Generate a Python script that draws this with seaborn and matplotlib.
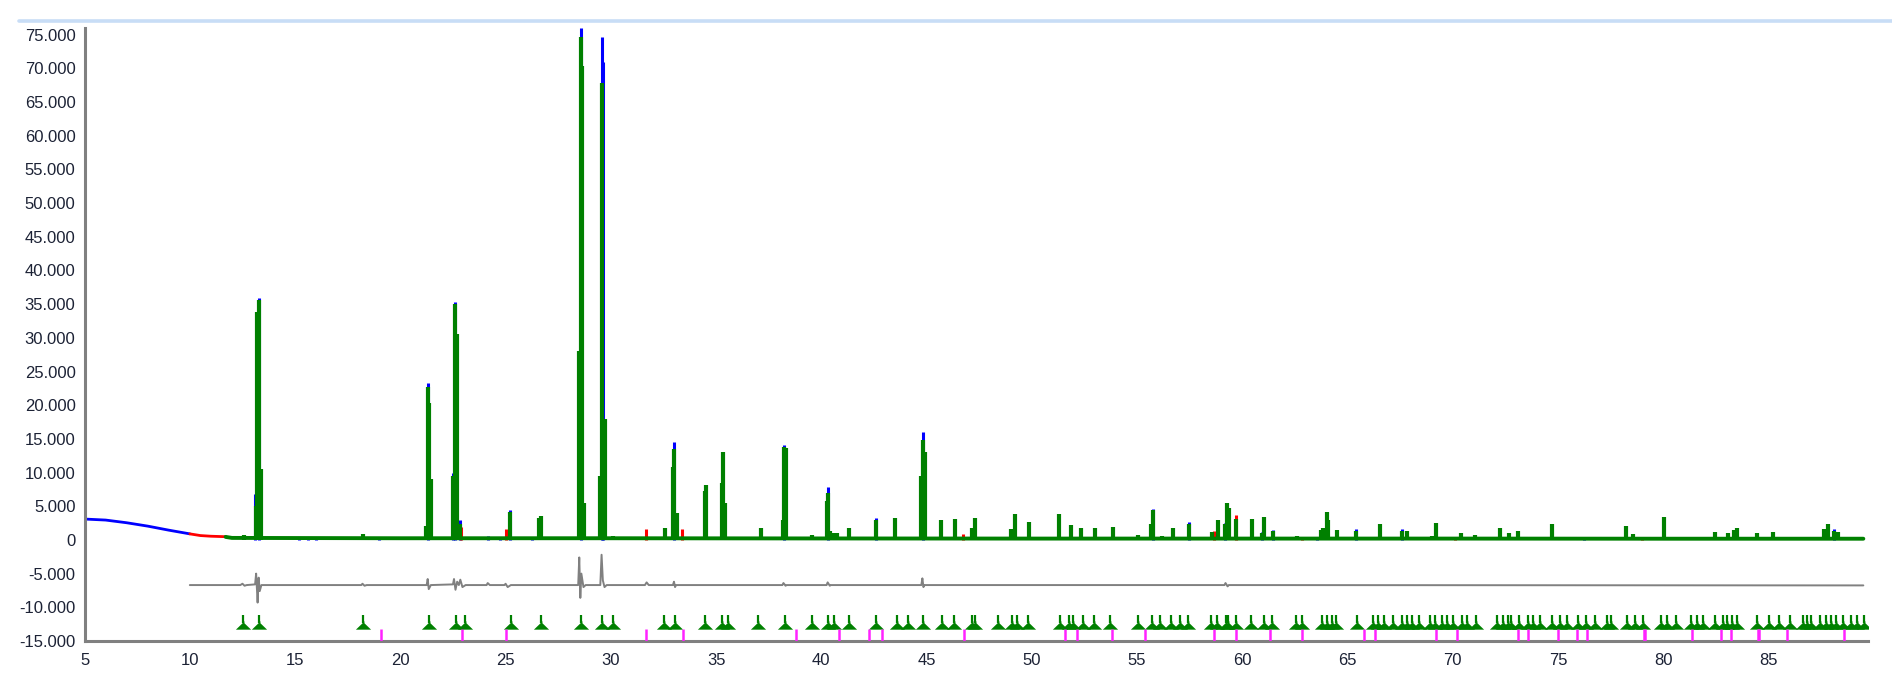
import matplotlib

matplotlib.use("Agg")

import matplotlib.pyplot as plt
import numpy as np
import pandas as pd
import seaborn as sns
from matplotlib.lines import Line2D
from matplotlib.ticker import FuncFormatter, MultipleLocator

# observed background before the refined range (blue / red part)
obs_bg_x = [5, 6, 7, 8, 9, 10]
obs_bg_y = [3100, 2950, 2550, 2050, 1450, 900]
red_bg_x = [10, 10.5, 11, 11.7]
red_bg_y = [900, 650, 550, 480]

# calculated background
calc_bg_x = [11.7, 12.0, 20, 30, 40, 50, 60, 70, 80, 89.5]
calc_bg_y = [450, 300, 250, 250, 220, 200, 200, 200, 180, 180]

# calculated peaks (green)
calc_pos = [12.55, 13.15, 13.2, 13.28, 13.36, 18.22, 21.2, 21.3, 21.36, 21.45,
            22.52, 22.6, 22.68, 22.85, 25.22, 26.6, 26.69, 28.5, 28.6, 28.65,
            28.72, 29.5, 29.6, 29.7, 30.12, 32.4, 32.58, 32.94, 33.02, 33.12,
            34.45, 34.52, 35.27, 35.34, 35.43, 37.12, 38.18, 38.23, 38.32, 39.57,
            40.27, 40.33, 40.39, 40.6, 40.76, 41.3, 42.61, 43.52, 44.72, 44.81,
            44.92, 45.67, 46.34, 47.16, 47.3, 49.03, 49.21, 49.88, 51.3, 51.85,
            52.35, 52.99, 53.85, 55.03, 55.67, 55.74, 56.17, 56.69, 57.0, 57.47,
            58.54, 58.83, 59.18, 59.26, 59.36, 59.7, 60.47, 60.91, 61.04, 61.44,
            62.61, 63.72, 63.83, 64.0, 64.08, 64.48, 65.41, 66.52, 67.03, 67.57,
            67.8, 68.19, 69.0, 69.22, 70.38, 71.06, 72.23, 72.68, 73.09, 73.57,
            74.11, 74.69, 75.28, 76.23, 77.39, 78.24, 78.54, 78.96, 80.03, 80.39,
            81.56, 82.45, 83.08, 83.35, 83.49, 84.43, 85.23, 86.85, 87.12, 87.65,
            87.8, 88.1, 88.28, 88.64, 89.05]
calc_int = [700, 5000, 33800, 35600, 10500, 900, 2000, 22700, 20300, 9000,
            9500, 35000, 30500, 2400, 4100, 3300, 3600, 28000, 74700, 70400,
            5500, 9500, 67800, 18000, 600, 500, 1800, 10900, 13500, 4000,
            7300, 8100, 8500, 13100, 5500, 1800, 3000, 13800, 13700, 750,
            5800, 7000, 1300, 1100, 1000, 1800, 3000, 3300, 9500, 14800,
            13000, 3000, 3100, 1800, 3300, 1600, 3800, 2700, 3800, 2200,
            1700, 1800, 1900, 700, 2300, 4500, 650, 1750, 350, 2400,
            1150, 3000, 2300, 5450, 4700, 3100, 3100, 1100, 3400, 1400,
            650, 1500, 1800, 4200, 3000, 1500, 1400, 2300, 500, 1400,
            1400, 500, 650, 2500, 1100, 800, 1800, 1000, 1400, 500,
            500, 2300, 300, 450, 500, 2000, 900, 500, 3400, 500,
            450, 1250, 1000, 1500, 1800, 1000, 1150, 300, 300, 1550,
            2300, 1400, 1150, 500, 500]

# observed points sticking out above the calculation (blue)
obs_pos = [13.09, 13.28, 15.2, 15.6, 16.0, 19.0, 21.3, 22.51, 22.6, 22.85,
           24.18, 24.73, 25.22, 26.27, 28.6, 29.6, 29.65, 33.02, 38.23, 40.33,
           42.61, 44.81, 55.74, 57.47, 59.18, 60.91, 61.44, 63.53, 65.41, 67.57,
           76.23, 88.1]
obs_int = [6750, 35900, 350, 350, 350, 500, 23300, 9900, 35300, 2900,
           650, 500, 4400, 500, 76000, 74700, 71000, 14500, 14100, 7900,
           3300, 16000, 4600, 2600, 2500, 1150, 1500, 300, 1550, 1550,
           500, 1550]

# observed points in red
red_pos = [22.9, 25.0, 31.67, 33.4, 46.72, 58.67, 59.7, 62.82, 70.1, 79.0]
red_int = [1900, 1600, 1600, 1600, 950, 1300, 3700, 350, 350, 400]

# difference curve
diff_x = [10, 12.4, 12.5, 12.6, 12.7, 13.1, 13.15, 13.2, 13.22, 13.27, 13.32, 13.4,
          18.15, 18.2, 18.3, 18.4, 21.25, 21.3, 21.35, 21.45, 22.5, 22.55, 22.62,
          22.7, 22.78, 22.85, 22.95, 23.1, 24.1, 24.15, 24.25, 24.95, 25.0, 25.1,
          25.25, 28.45, 28.5, 28.55, 28.6, 28.7, 28.8, 29.5, 29.56, 29.62, 29.7,
          29.8, 31.62, 31.7, 31.8, 32.95, 33.0, 33.05, 33.1, 38.15, 38.2, 38.3,
          38.35, 40.25, 40.3, 40.4, 40.45, 44.75, 44.8, 44.85, 44.9, 59.15, 59.2,
          59.3, 59.35, 89.5]
diff_y = [-6700, -6700, -6500, -6800, -6700, -6600, -5000, -8000, -9300, -5600, -7600, -6700,
          -6700, -6500, -6800, -6700, -6700, -5800, -7300, -6700, -6600, -5800, -7400,
          -6200, -6700, -5900, -7000, -6700, -6700, -6400, -6700, -6700, -6500, -7000,
          -6700, -6700, -2600, -8600, -5000, -7000, -6700, -6700, -2200, -6000, -7000,
          -6700, -6700, -6300, -6700, -6700, -6200, -7000, -6700, -6700, -6400, -6800,
          -6700, -6700, -6300, -6800, -6700, -6700, -5700, -7000, -6700, -6700, -6400,
          -6900, -6700, -6750]

# reflection markers, phase 1 (green) and phase 2 (magenta)
phase1_ticks = [12.53, 13.28, 18.24, 21.36, 22.63, 23.05, 25.25, 26.69, 28.59, 29.59,
                30.1, 32.54, 33.04, 34.48, 35.29, 35.57, 36.99, 38.27, 39.55, 40.33,
                40.61, 41.30, 42.6, 43.59, 44.14, 44.83, 45.73, 46.29, 47.16, 47.32,
                48.4, 49.04, 49.3, 49.83, 51.34, 51.77, 51.96, 52.45, 52.96, 53.72,
                55.06, 55.7, 56.11, 56.59, 57.02, 57.41, 58.52, 58.81, 59.21, 59.32,
                59.71, 60.43, 61.02, 61.43, 62.54, 62.81, 63.76, 64.0, 64.24, 64.44,
                65.43, 66.19, 66.46, 66.73, 67.17, 67.57, 67.81, 68.05, 68.37, 68.92,
                69.16, 69.48, 69.71, 70.03, 70.43, 70.67, 71.1, 72.1, 72.37, 72.63,
                72.76, 73.12, 73.58, 73.79, 74.15, 74.73, 75.09, 75.41, 75.95, 76.31,
                76.74, 77.33, 77.52, 78.28, 78.63, 79.04, 79.87, 80.16, 80.6, 81.32,
                81.62, 81.9, 82.46, 82.82, 83.01, 83.25, 83.52, 84.43, 85.03, 85.5,
                86.01, 86.64, 86.83, 87.03, 87.43, 87.74, 87.98, 88.22, 88.53, 88.93,
                89.21, 89.51]
phase2_ticks = [19.1, 22.91, 25.03, 31.68, 33.41, 38.78, 40.85, 42.28, 42.87, 46.76,
                51.58, 52.14, 53.81, 55.38, 58.65, 59.68, 61.3, 62.81, 65.79, 66.3,
                69.21, 70.19, 73.08, 73.55, 75.0, 75.88, 76.36, 79.1, 79.15, 81.36,
                82.73, 83.2, 84.51, 84.56, 85.88, 88.58]

GREEN = "#008000"
BLUE = "#0000ff"
RED = "#ff0000"
GREY = "#808080"
MAGENTA = "#ff22ff"

sns.set_style("white")
plt.rcParams["font.family"] = ["Liberation Sans", "DejaVu Sans"]

fig = plt.figure(figsize=(18.92, 6.89), dpi=100)
ax = fig.add_axes([0.0447, 0.0697, 0.9426, 0.8897])

# window edge line at the top
fig.add_artist(Line2D([0.01, 1.0], [0.9695, 0.9695], transform=fig.transFigure,
                      color="#c8ddf6", lw=2.6))

obs_bg = pd.DataFrame({"x": obs_bg_x, "y": obs_bg_y})
red_bg = pd.DataFrame({"x": red_bg_x, "y": red_bg_y})
calc_bg = pd.DataFrame({"x": calc_bg_x, "y": calc_bg_y})
diff = pd.DataFrame({"x": diff_x, "y": diff_y})

sns.lineplot(data=obs_bg, x="x", y="y", color=BLUE, lw=2.0, ax=ax, zorder=2)
sns.lineplot(data=red_bg, x="x", y="y", color=RED, lw=2.0, ax=ax, zorder=2)

ax.vlines(obs_pos, 0, obs_int, color=BLUE, lw=2.2, zorder=2)
ax.vlines(red_pos, 0, red_int, color=RED, lw=2.2, zorder=2)

sns.lineplot(data=calc_bg, x="x", y="y", color=GREEN, lw=2.8, ax=ax, zorder=3)
ax.vlines(calc_pos, 0, calc_int, color=GREEN, lw=3.0, zorder=3)

sns.lineplot(data=diff, x="x", y="y", color=GREY, lw=1.4, ax=ax, zorder=3,
             sort=False)

# reflection markers
tri = [(-1, -0.55), (1, -0.55), (0.12, 0.3), (0.12, 0.55), (-0.12, 0.55),
       (-0.12, 0.3), (-1, -0.55)]
ax.vlines(phase1_ticks, -12300, -11200, color=GREEN, lw=1.6, zorder=3)
ax.scatter(phase1_ticks, np.full(len(phase1_ticks), -12600), marker=tri,
           s=120, color=GREEN, lw=0, zorder=3)
ax.vlines(phase2_ticks, -15000, -13150, color=MAGENTA, lw=1.8, zorder=3)

ax.set_xlim(5, 89.72)
ax.set_ylim(-15000, 76000)
ax.set_xlabel("")
ax.set_ylabel("")

ax.xaxis.set_major_locator(MultipleLocator(5))
ax.xaxis.set_minor_locator(MultipleLocator(1))
ax.yaxis.set_major_locator(MultipleLocator(5000))
ax.yaxis.set_minor_locator(MultipleLocator(1000))
ax.yaxis.set_major_formatter(FuncFormatter(lambda v, p: f"{v:,.0f}".replace(",", ".")))
ax.xaxis.set_major_formatter(FuncFormatter(lambda v, p: f"{v:.0f}"))

for side in ["top", "right"]:
    ax.spines[side].set_visible(False)
for side in ["left", "bottom"]:
    ax.spines[side].set_color("#808080")
    ax.spines[side].set_linewidth(2.2)

ax.tick_params(which="major", direction="out", length=4.5, width=1.6,
               color="#707070", labelsize=12, labelcolor="#1c2235", pad=2)
ax.tick_params(which="minor", direction="out", length=2.5, width=1.2,
               color="#a0a0a0")
ax.tick_params(axis="x", which="major", pad=4)

fig.savefig("out.png", dpi=100)
plt.close(fig)
